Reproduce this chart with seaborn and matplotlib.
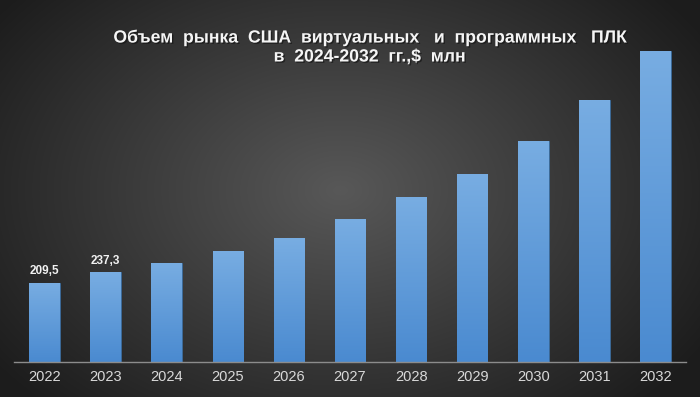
import numpy as np
import pandas as pd
import matplotlib
matplotlib.use("Agg")
import matplotlib.pyplot as plt
import matplotlib.patheffects as pe
from matplotlib.colors import LinearSegmentedColormap
import seaborn as sns

years = ["2022", "2023", "2024", "2025", "2026", "2027", "2028", "2029", "2030", "2031", "2032"]
values = [209.5, 237.3, 263, 295, 328, 378, 436, 498, 586, 694, 825]
shown_labels = ["209,5", "237,3", "", "", "", "", "", "", "", "", ""]
title_text = "Объем  рынка  США  виртуальных   и  программных   ПЛК\nв  2024-2032  гг.,$  млн"

sns.set_theme(style="white")
plt.rcParams['font.family'] = ['Liberation Sans', 'DejaVu Sans']

df = pd.DataFrame({"year": years, "value": values})

fig = plt.figure(figsize=(7.0, 3.97), dpi=100)

# background radial gradient
bg = fig.add_axes([0, 0, 1, 1])
bg.set_axis_off()
W, H = 700, 397
xx, yy = np.meshgrid(np.arange(W), np.arange(H))
r = np.sqrt(((xx - 340) / 430.0) ** 2 + ((yy - 190) / 300.0) ** 2)
t = np.clip(1 - r, 0, 1)
center = np.array([0x58, 0x58, 0x58]) / 255
edge = np.array([0x1c, 0x1c, 0x1c]) / 255
img = edge[None, None, :] + (center - edge)[None, None, :] * t[..., None]
bg.imshow(img, aspect='auto', extent=[0, 1, 0, 1], origin='upper')
bg.set_xlim(0, 1); bg.set_ylim(0, 1)

ax = fig.add_axes([14 / 700, (397 - 362) / 397, 672 / 700, (362 - 40) / 397])
ax.patch.set_alpha(0)
sns.barplot(data=df, x="year", y="value", ax=ax, color="#5f9bdc", width=0.5,
            edgecolor="#3a6a9a", linewidth=0.6, saturation=1)

cmap = LinearSegmentedColormap.from_list("bar", ["#4a8ad0", "#78ade2"])
grad = np.linspace(0, 1, 256).reshape(-1, 1)
for p in ax.patches:
    x0, y0 = p.get_x(), p.get_y()
    w, h = p.get_width(), p.get_height()
    im = ax.imshow(grad, cmap=cmap, aspect='auto', origin='lower',
                   extent=[x0, x0 + w, y0, y0 + h], zorder=p.get_zorder() + 0.1)
    im.set_clip_path(p)
ax.set_xlim(-0.5, len(years) - 0.5)
ax.set_ylim(0, 853)

for i, (v, lab) in enumerate(zip(values, shown_labels)):
    if lab:
        ax.annotate(lab, (i, v), xytext=(0, 4), textcoords="offset points",
                    ha="center", va="bottom", color="#f2f2f2", fontsize=8.5,
                    fontweight="bold")

for s in ["top", "right", "left"]:
    ax.spines[s].set_visible(False)
ax.spines["bottom"].set_color("#8c8c8c")
ax.spines["bottom"].set_linewidth(1.0)
ax.set_yticks([])
ax.set_xlabel("")
ax.set_ylabel("")
ax.tick_params(axis="x", length=0, pad=6, labelsize=10.5, labelcolor="#d9d9d9")

fig.text(370 / 700, 1 - 47 / 397, title_text, ha="center", va="center",
         fontsize=12.7, fontweight="bold", color="#f5f5f5", linespacing=1.15,
         path_effects=[pe.withSimplePatchShadow(offset=(1, -1), shadow_rgbFace="#111111", alpha=0.6)])

fig.savefig("out.png", dpi=100)
